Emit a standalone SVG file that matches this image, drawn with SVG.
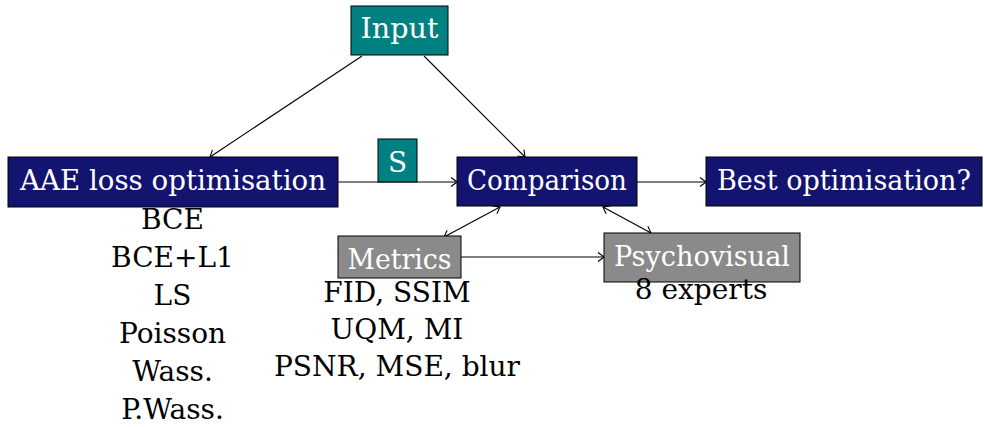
<svg xmlns="http://www.w3.org/2000/svg" width="984" height="427" viewBox="0 0 984 427">
<style>
text { font-family: "DejaVu Serif", "Liberation Serif", serif; font-size: 28px; text-anchor: middle; }
.lbl { fill: #ffffff; }
.lst { fill: #000000; }
.navy { fill: #131370; stroke: #000; stroke-width: 1; }
.teal { fill: #008080; stroke: #000; stroke-width: 1; }
.gray { fill: #8a8a8a; stroke: #000; stroke-width: 1; }
.edge { stroke: #000; stroke-width: 1.1; fill: none; }
</style>
<defs>
<marker id="ah" markerUnits="userSpaceOnUse" markerWidth="14" markerHeight="14" viewBox="-8 -7 10 14" refX="0" refY="0" orient="auto-start-reverse">
<path d="M -6,-4.5 Q -1.5,-1.2 0,0 Q -1.5,1.2 -6,4.5" fill="none" stroke="#000" stroke-width="1.1"/>
</marker>
</defs>
<g id="connectors">
<line class="edge" x1="362" y1="56" x2="210" y2="157" marker-end="url(#ah)"/>
<line class="edge" x1="424" y1="56" x2="525" y2="157" marker-end="url(#ah)"/>
<line class="edge" x1="338" y1="182" x2="457" y2="182" marker-end="url(#ah)"/>
<line class="edge" x1="637" y1="182" x2="706" y2="182" marker-end="url(#ah)"/>
<line class="edge" x1="444" y1="237" x2="500" y2="207" marker-start="url(#ah)" marker-end="url(#ah)"/>
<line class="edge" x1="603" y1="207" x2="651" y2="233" marker-start="url(#ah)" marker-end="url(#ah)"/>
<line class="edge" x1="461" y1="257" x2="604" y2="257" marker-end="url(#ah)"/>
</g>
<g id="input">
<rect class="teal" x="351" y="6" width="97" height="49"/>
<text class="lbl" x="399.5" y="38" textLength="78" lengthAdjust="spacingAndGlyphs">Input</text>
</g>
<g id="aae">
<rect class="navy" x="8" y="157" width="330" height="50"/>
<text class="lbl" x="173" y="190" textLength="306" lengthAdjust="spacingAndGlyphs">AAE loss optimisation</text>
</g>
<g id="aae-list">
<text class="lst" x="172.5" y="229">BCE</text>
<text class="lst" x="172.5" y="267">BCE+L1</text>
<text class="lst" x="172.5" y="305">LS</text>
<text class="lst" x="172.5" y="343">Poisson</text>
<text class="lst" x="172.5" y="381">Wass.</text>
<text class="lst" x="172.5" y="419">P.Wass.</text>
</g>
<g id="s">
<rect class="teal" x="378" y="139" width="39" height="43"/>
<text class="lbl" x="397.5" y="172">S</text>
</g>
<g id="comparison">
<rect class="navy" x="457" y="157" width="180" height="49"/>
<text class="lbl" x="547" y="190" textLength="160" lengthAdjust="spacingAndGlyphs">Comparison</text>
</g>
<g id="best">
<rect class="navy" x="706" y="157" width="276" height="49"/>
<text class="lbl" x="844" y="190" textLength="254" lengthAdjust="spacingAndGlyphs">Best optimisation?</text>
</g>
<g id="metrics">
<rect class="gray" x="338" y="236" width="123" height="42"/>
<text class="lbl" x="399.5" y="269" textLength="104" lengthAdjust="spacingAndGlyphs">Metrics</text>
</g>
<g id="metrics-list">
<text class="lst" x="397" y="302">FID, SSIM</text>
<text class="lst" x="397" y="339">UQM, MI</text>
<text class="lst" x="397" y="376" textLength="246" lengthAdjust="spacingAndGlyphs">PSNR, MSE, blur</text>
</g>
<g id="psychovisual">
<rect class="gray" x="604" y="233" width="196" height="49"/>
<text class="lbl" x="702" y="266" textLength="176" lengthAdjust="spacingAndGlyphs">Psychovisual</text>
</g>
<g id="psy-list">
<text class="lst" x="701" y="299">8 experts</text>
</g>
</svg>
